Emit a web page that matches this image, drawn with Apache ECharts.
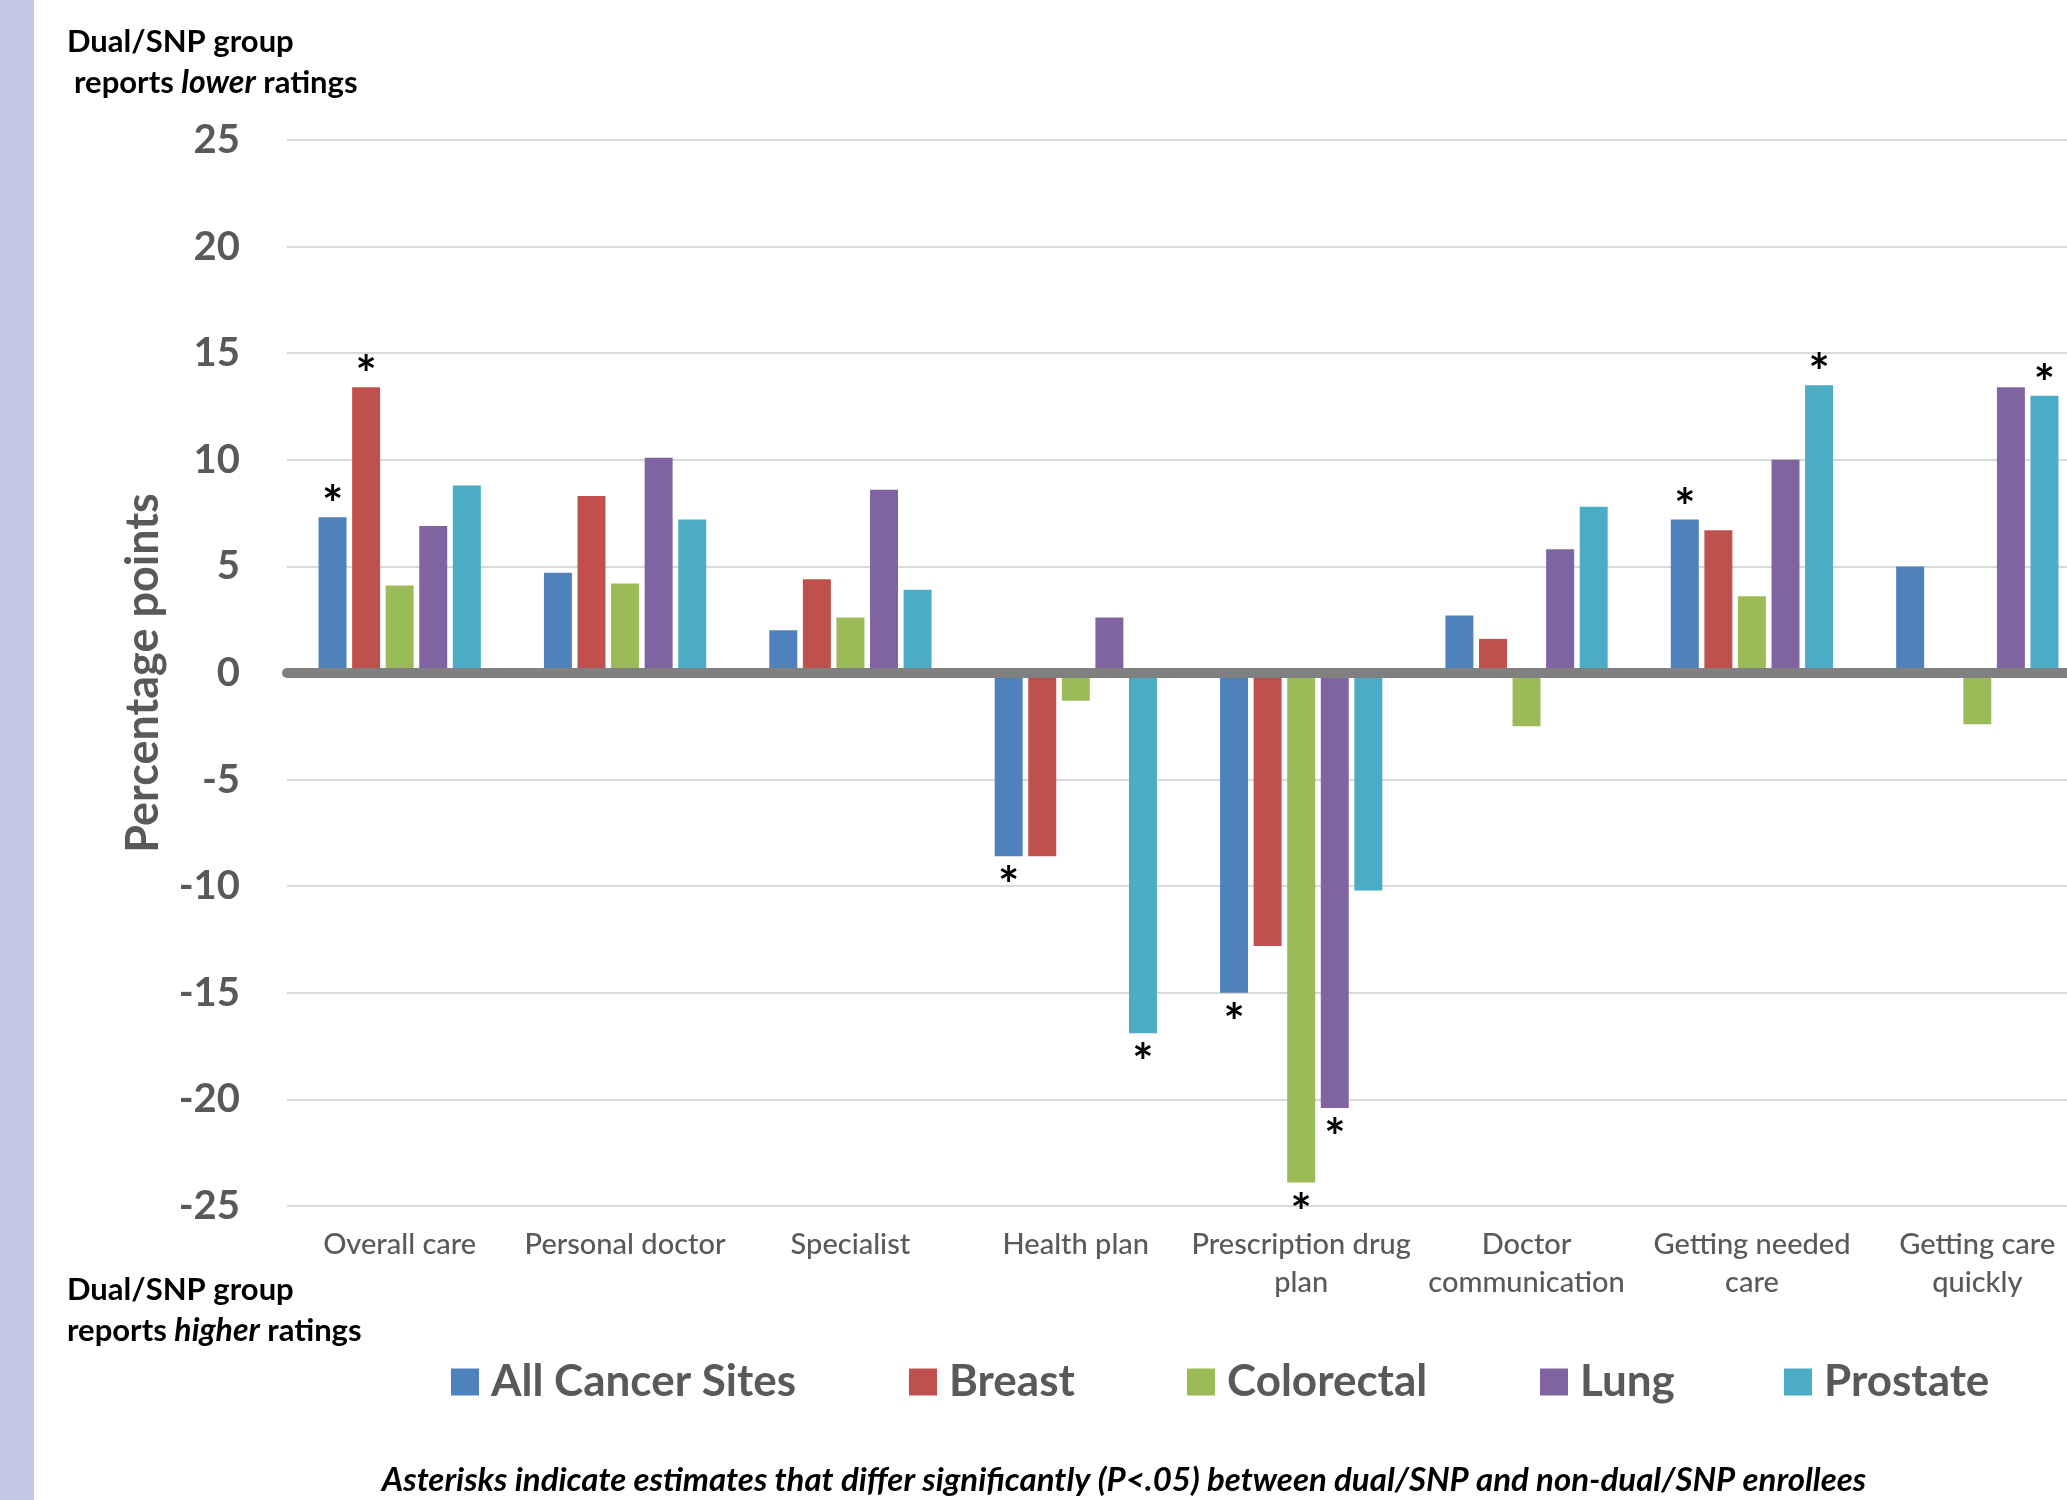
<!DOCTYPE html>
<html>
<head>
<meta charset="utf-8">
<script src="https://cdn.jsdelivr.net/npm/echarts@6/dist/echarts.min.js"></script>
<style>
html,body{margin:0;padding:0;background:#fff;overflow:hidden;width:2067px;height:1500px;}
#chart{width:2090px;height:1500px;}
</style>
</head>
<body>
<div id="chart"></div>
<script>
const categories = ['Overall care','Personal doctor','Specialist','Health plan','Prescription drug\nplan','Doctor\ncommunication','Getting needed\ncare','Getting care\nquickly'];
const seriesNames = ['All Cancer Sites','Breast','Colorectal','Lung','Prostate'];
const allCancer  = [7.3, 4.7, 2.0, -8.6, -15.0, 2.7, 7.2, 5.0];
const breast     = [13.4, 8.3, 4.4, -8.6, -12.8, 1.6, 6.7, null];
const colorectal = [4.1, 4.2, 2.6, -1.3, -23.9, -2.5, 3.6, -2.4];
const lung       = [6.9, 10.1, 8.6, 2.6, -20.4, 5.8, 10.0, 13.4];
const prostate   = [8.8, 7.2, 3.9, -16.9, -10.2, 7.8, 13.5, 13.0];
const sigAll        = [1,0,0,1,1,0,1,0];
const sigBreast     = [1,0,0,0,0,0,0,0];
const sigColorectal = [0,0,0,0,1,0,0,0];
const sigLung       = [0,0,0,0,1,0,0,0];
const sigProstate   = [0,0,0,1,0,0,1,1];
const yMin = -25, yMax = 25, yStep = 5;
const footnote = 'Asterisks indicate estimates that differ significantly (P<.05) between dual/SNP and non-dual/SNP enrollees';

const colors = ['#4F81BD','#C0504D','#9BBB59','#8064A2','#4BACC6'];
const values = [allCancer, breast, colorectal, lung, prostate];
const sigs = [sigAll, sigBreast, sigColorectal, sigLung, sigProstate];
const FONT = 'Lato';
const GREY = '#595959';

const chart = echarts.init(document.getElementById('chart'), null, {renderer:'canvas'});

const series = seriesNames.map((name, si) => ({
  name: name,
  type: 'bar',
  xAxisIndex: 0,
  barGap: '20%',
  barCategoryGap: '28%',
  itemStyle: {color: colors[si]},
  data: values[si].map((v, ci) => ({
    value: v,
    label: {
      show: !!sigs[si][ci],
      position: 'outside',
      formatter: '*',
      distance: (v >= 0 ? -14 : 6),
      color: '#000',
      fontFamily: FONT,
      fontWeight: 'bold',
      fontSize: 50
    }
  }))
}));

const legendLefts = [451, 909, 1187, 1540, 1784];
const legends = seriesNames.map((n, i) => ({
  data: [n],
  left: legendLefts[i],
  top: 1358,
  padding: 0,
  itemWidth: 28,
  itemHeight: 27,
  icon: 'rect',
  textStyle: {fontFamily: FONT, fontWeight: 'bold', fontSize: 44, color: GREY, lineHeight: 48, padding:[0,0,0,7]}
}));

const TS = 31;
const richStyle = {n: {fontFamily: FONT, fontWeight: 'bold', fontSize: TS, fill: '#000'}, i: {fontFamily: FONT, fontWeight: 'bold', fontStyle: 'italic', fontSize: TS + 1, fill: '#000'}};
const boldTxt = {fontFamily: FONT, fontWeight: 'bold', fontSize: TS, fill: '#000'};

chart.setOption({
  animation: false,
  color: colors,
  grid: {left: 287, right: 0, top: 140, bottom: 294, containLabel: false},
  legend: legends,
  xAxis: [{
    type: 'category',
    data: categories,
    position: 'bottom',
    axisLine: {show: false, onZero: false},
    axisTick: {show: false},
    axisLabel: {interval: 0, margin: 20, fontFamily: FONT, fontWeight: 500, fontSize: 29, lineHeight: 38, color: GREY}
  }, {
    type: 'category',
    data: categories,
    position: 'top',
    z: 10,
    axisLine: {show: true, onZero: true, lineStyle: {color: '#808080', width: 10}},
    axisTick: {show: false},
    axisLabel: {show: false}
  }],
  yAxis: {
    type: 'value',
    min: yMin, max: yMax, interval: yStep,
    name: 'Percentage points',
    nameLocation: 'middle',
    nameRotate: 90,
    nameGap: 121,
    nameTextStyle: {fontFamily: FONT, fontWeight: 'bold', fontSize: 45, color: GREY},
    axisLine: {show: false},
    axisTick: {show: false},
    axisLabel: {margin: 47, fontFamily: FONT, fontWeight: 'bold', fontSize: 40, color: GREY},
    splitLine: {lineStyle: {color: '#D9D9D9', width: 2}}
  },
  series: series,
  graphic: [
    {type: 'rect', left: 0, top: 0, shape: {width: 34, height: 1500}, style: {fill: '#C1C9E4'}, z: -10},
    {type: 'text', x: 67, y: 42, style: Object.assign({text: 'Dual/SNP group', verticalAlign: 'middle'}, boldTxt)},
    {type: 'text', x: 74, y: 83, style: Object.assign({text: '{n|reports }{i|lower}{n| ratings}', verticalAlign: 'middle', rich: richStyle}, boldTxt)},
    {type: 'text', x: 67, y: 1290, style: Object.assign({text: 'Dual/SNP group', verticalAlign: 'middle'}, boldTxt)},
    {type: 'text', x: 67, y: 1331, style: Object.assign({text: '{n|reports }{i|higher}{n| ratings}', verticalAlign: 'middle', rich: richStyle}, boldTxt)},
    {type: 'text', x: 1124, y: 1480, style: {text: footnote, align: 'center', verticalAlign: 'middle', fontFamily: FONT, fontWeight: 'bold', fontStyle: 'italic', fontSize: 33, fill: '#000'}}
  ]
});
</script>
</body>
</html>
